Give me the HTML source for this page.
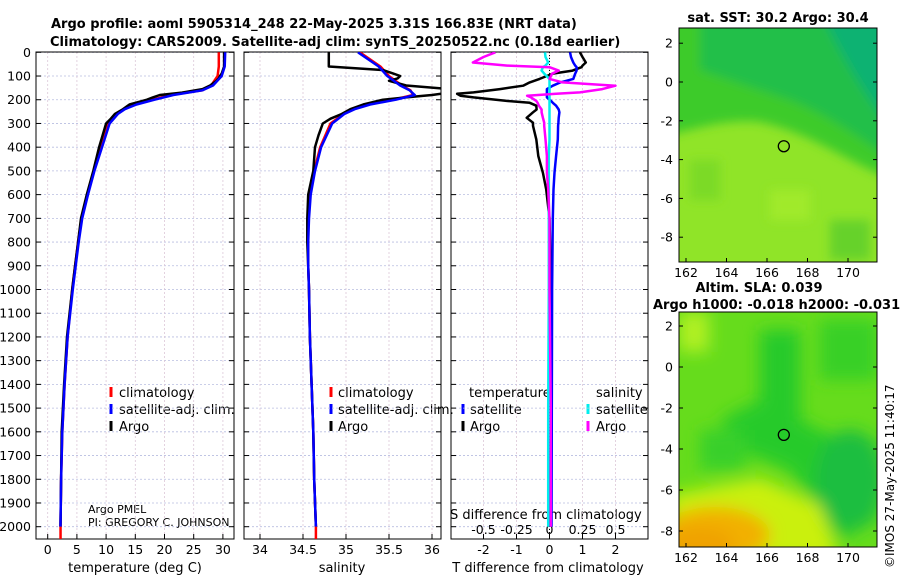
<!DOCTYPE html>
<html><head><meta charset="utf-8"><style>
html,body{margin:0;padding:0;background:#fff}
svg{display:block;font-family:"DejaVu Sans","Liberation Sans",sans-serif}
</style></head><body>
<svg id="s" width="900" height="580" viewBox="0 0 900 580" xmlns="http://www.w3.org/2000/svg">
<defs>
<filter id="blur6"><feGaussianBlur stdDeviation="5"/></filter>
<filter id="blur10"><feGaussianBlur stdDeviation="8"/></filter>
<clipPath id="cTop"><rect x="679" y="28" width="198" height="234"/></clipPath>
<clipPath id="cBot"><rect x="679" y="312" width="198" height="235"/></clipPath>
<clipPath id="cP1"><rect x="36" y="52" width="198" height="487"/></clipPath>
<clipPath id="cP2"><rect x="244" y="52" width="197" height="487"/></clipPath>
<clipPath id="cP3"><rect x="451" y="52" width="197" height="487"/></clipPath>
</defs>
<text x="51" y="28" font-size="13" font-weight="bold">Argo profile: aoml 5905314_248 22-May-2025 3.31S 166.83E (NRT data)</text>
<text x="50" y="46" font-size="13" font-weight="bold">Climatology: CARS2009. Satellite-adj clim: synTS_20250522.nc (0.18d earlier)</text>

<!-- top map -->
<g clip-path="url(#cTop)">
<rect x="679" y="28" width="198" height="234" fill="#90e428"/>
<g filter="url(#blur6)">
<path d="M660 10 L900 10 L900 180 C860 172 820 135 760 122 C720 118 690 132 660 136 Z" fill="#3ccb2c"/>
<path d="M700 10 L900 10 L900 165 C870 145 830 115 790 100 C760 90 730 80 700 70Z" fill="#22bf48"/>
<path d="M820 10 L900 10 L900 140 C880 115 850 75 820 10Z" fill="#10b272"/>
<rect x="690" y="160" width="30" height="40" fill="#7cda26"/>
<rect x="770" y="190" width="40" height="30" fill="#a0ea2a"/>
<rect x="830" y="220" width="40" height="40" fill="#66d22a"/>
</g>
</g>
<rect x="679" y="28" width="198" height="234" fill="none" stroke="#000" stroke-width="1"/>
<text x="778" y="22" font-size="13" font-weight="bold" text-anchor="middle">sat. SST: 30.2 Argo: 30.4</text>

<!-- bottom map -->
<g clip-path="url(#cBot)">
<rect x="679" y="312" width="198" height="235" fill="#66dc1c"/>
<g filter="url(#blur10)">
<rect x="679" y="312" width="30" height="40" fill="#b0f020"/>
<path d="M760 330 L800 330 L800 420 L840 440 L877 440 L877 520 L840 540 L790 470 L740 450 L720 420 L760 400Z" fill="#28ca2a"/>
<rect x="820" y="320" width="57" height="60" fill="#38d028"/>
<ellipse cx="850" cy="480" rx="35" ry="50" fill="#1ebe40"/>
<rect x="700" y="430" width="45" height="40" fill="#38d02a"/>
<path d="M670 495 L760 478 L820 505 L840 560 L670 560Z" fill="#caf010"/>
<ellipse cx="715" cy="535" rx="55" ry="28" fill="#f2b000"/>
<ellipse cx="700" cy="545" rx="35" ry="18" fill="#f0a200"/>
</g>
</g>
<rect x="679" y="312" width="198" height="235" fill="none" stroke="#000" stroke-width="1"/>
<text x="759" y="292" font-size="13" font-weight="bold" text-anchor="middle">Altim. SLA: 0.039</text>
<text x="653" y="309" font-size="13" font-weight="bold">Argo h1000: -0.018 h2000: -0.031</text>
<text transform="translate(894,568) rotate(-90)" font-size="12">©IMOS 27-May-2025 11:40:17</text>

<g font-size="13">
<line x1="111" y1="387" x2="111" y2="397" stroke="#f00" stroke-width="3"/><text x="119" y="397">climatology</text>
<line x1="111" y1="404" x2="111" y2="414" stroke="#00f" stroke-width="3"/><text x="119" y="414">satellite-adj. clim.</text>
<line x1="111" y1="421" x2="111" y2="431" stroke="#000" stroke-width="3"/><text x="119" y="431">Argo</text>
</g>
<g font-size="13">
<line x1="331" y1="387" x2="331" y2="397" stroke="#f00" stroke-width="3"/><text x="338" y="397">climatology</text>
<line x1="331" y1="404" x2="331" y2="414" stroke="#00f" stroke-width="3"/><text x="338" y="414">satellite-adj. clim.</text>
<line x1="331" y1="421" x2="331" y2="431" stroke="#000" stroke-width="3"/><text x="338" y="431">Argo</text>
</g>
<g font-size="13">
<text x="469" y="397">temperature</text><text x="596" y="397">salinity</text>
<line x1="463" y1="404" x2="463" y2="414" stroke="#00f" stroke-width="3"/><text x="470" y="414">satellite</text>
<line x1="463" y1="421" x2="463" y2="431" stroke="#000" stroke-width="3"/><text x="470" y="431">Argo</text>
<line x1="588" y1="404" x2="588" y2="414" stroke="#0ee" stroke-width="3"/><text x="596" y="414">satellite</text>
<line x1="588" y1="421" x2="588" y2="431" stroke="#f0f" stroke-width="3"/><text x="596" y="431">Argo</text>
</g>
<text x="88" y="513" font-size="11">Argo PMEL</text>
<text x="88" y="526" font-size="11">PI: GREGORY C. JOHNSON</text>
<text x="450" y="519" font-size="13">S difference from climatology</text>
<text x="135" y="572" font-size="13" text-anchor="middle">temperature (deg C)</text>
<text x="342" y="572" font-size="13" text-anchor="middle">salinity</text>
<text x="548" y="572" font-size="13" text-anchor="middle">T difference from climatology</text>
</svg>
<script>
// ---------- data ----------
const depthTicks=[0,100,200,300,400,500,600,700,800,900,1000,1100,1200,1300,1400,1500,1600,1700,1800,1900,2000];
const tempTicks=[0,5,10,15,20,25,30];
const salTicks=[34,34.5,35,35.5,36];
const salTickLabels=["34","34.5","35","35.5","36"];
const tdiffTicks=[-2,-1,0,1,2];
const sdiffTicks=[-0.5,-0.25,0,0.25,0.5];
const sdiffTickLabels=["-0.5","-0.25","0","0.25","0.5"];
const lonTicks=[162,164,166,168,170];
const latTicks=[2,0,-2,-4,-6,-8];

const climDepth=[0,60,100,140,160,180,200,220,240,260,300,400,500,600,700,800,900,1000,1200,1400,1600,1800,2000];
const climTemp=[29.3,29.3,29.1,28,26.5,21,18,15,13,11.8,10.3,9.1,7.9,6.8,5.8,5.2,4.7,4.2,3.4,2.9,2.5,2.3,2.2];
const satTemp=[30.4,30.3,29.8,28.3,26.5,21.5,18.3,15.2,13.2,12,10.6,9.3,8,6.9,5.9,5.3,4.8,4.3,3.4,2.9,2.5,2.3,2.2];
const climSal=[35.16,35.4,35.5,35.65,35.75,35.78,35.55,35.25,35.08,34.97,34.82,34.7,34.63,34.58,34.56,34.56,34.56,34.57,34.58,34.6,34.62,34.63,34.65];
const satSal=[35.14,35.38,35.48,35.63,35.74,35.8,35.58,35.28,35.1,34.98,34.84,34.71,34.64,34.59,34.57,34.56,34.56,34.57,34.58,34.6,34.62,34.63,34.65];

const argoDepth=[0,40,60,75,90,100,110,120,140,155,170,180,190,200,220,240,260,280,300,350,400,500,600,700,800,900,1000,1200,1400,1600,1800,2000];
const argoTemp=[30.2,30.2,30.2,30,29.8,29.5,29.3,28.9,27.8,26.5,23,19.2,18,17,14,12.9,11.5,10.8,10,9.4,8.8,7.8,6.7,5.7,5.2,4.7,4.2,3.3,2.8,2.4,2.3,2.2];
const argoSal=[34.8,34.8,34.8,35.43,35.55,35.63,35.6,35.5,35.7,36.2,36.2,36.0,35.7,35.43,35.2,35.05,34.95,34.82,34.73,34.68,34.64,34.62,34.56,34.55,34.55,34.56,34.57,34.58,34.6,34.62,34.63,34.65];

const dDepth=[0,20,43,56,63,77,90,112,127,141,155,169,175,183,190,205,213,225,241,253,276,297,310,367,437,508,578,700,1000,1500,2000];
const argoDT=[0.92,1.0,1.1,1.0,0.97,0.7,0.1,-0.3,-0.6,-0.8,-1.5,-2.3,-2.8,-2.7,-2.3,-1.3,-0.6,-0.4,-0.39,-0.5,-0.69,-0.5,-0.5,-0.4,-0.34,-0.2,-0.1,0,0.05,0.05,0];
const satDT=[0.62,0.65,0.72,0.78,0.82,0.82,0.78,0.72,0.33,0.1,-0.08,-0.08,-0.08,-0.08,-0.08,0.05,0.1,0.2,0.28,0.3,0.28,0.27,0.26,0.25,0.2,0.15,0.12,0.1,0.08,0.07,0.06];
const satDS=[-0.034,-0.03,-0.01,-0.03,-0.05,-0.06,-0.04,0,0,0,0,0,0,0,0,0,0,0,0,0,0,0,0,0,-0.005,-0.005,-0.005,-0.005,-0.005,-0.01,-0.01];
const argoDS=[-0.41,-0.5,-0.58,-0.32,0,0.07,0.02,0,0.1,0.5,0.4,0.23,0.05,-0.17,-0.14,-0.1,-0.09,-0.08,-0.06,-0.06,-0.05,-0.04,-0.04,-0.03,-0.02,-0.02,-0.01,0,0,0.01,0.01];

const floatLon=166.83, floatLat=-3.31;

// ---------- axes ----------
const yD=d=>52.3+d*0.2372;
const xT=t=>47.7+t*5.84;
const xS=s=>260+(s-34)*86;
const xDT=v=>549.5+v*33;
const xDS=v=>549.5+v*132;
const mLon=l=>686+(l-162)*20.25;
const mLatTop=a=>82-a*19.4;
const mLatBot=a=>367-a*20.5;

const NS="http://www.w3.org/2000/svg";
const svg=document.getElementById('s');
function mk(tag,attrs,parent){const e=document.createElementNS(NS,tag);for(const k in attrs)e.setAttribute(k,attrs[k]);(parent||svg).appendChild(e);return e;}

const panels=[{x0:36,x1:234,xf:xT,ticks:tempTicks,labels:tempTicks.map(String),name:'temp'},
{x0:244,x1:441,xf:xS,ticks:salTicks,labels:salTickLabels,name:'salinity'},
{x0:451,x1:648,xf:xDT,ticks:tdiffTicks,labels:tdiffTicks.map(String),name:'diff'}];
const yTop=52,yBot=539;
panels.forEach(p=>{
  const g=mk('g',{});
  
  
  depthTicks.forEach(d=>{
    mk('line',{x1:p.x0,x2:p.x1,y1:yD(d),y2:yD(d),stroke:'#b8bde0','stroke-width':0.8,'stroke-dasharray':'2,2'},g);
    mk('line',{x1:p.x0,x2:p.x0+5,y1:yD(d),y2:yD(d),stroke:'#000'},g);
    mk('line',{x1:p.x1-5,x2:p.x1,y1:yD(d),y2:yD(d),stroke:'#000'},g);
  });
  p.ticks.forEach((t,i)=>{
    const x=p.xf(t);
    mk('line',{x1:x,x2:x,y1:yTop,y2:yBot,stroke:'#dcc8d8','stroke-width':0.8,'stroke-dasharray':'2,2'},g);
    mk('line',{x1:x,x2:x,y1:yBot-5,y2:yBot,stroke:'#000'},g);
    const tx=mk('text',{x:x,y:554,'font-size':12.5,'text-anchor':'middle'},g);
    
    
    tx.textContent=p.labels[i];
  });
  mk('rect',{x:p.x0,y:yTop,width:p.x1-p.x0,height:yBot-yTop,fill:'none',stroke:'#000','stroke-width':1},g);
});
depthTicks.forEach(d=>{
  const t=mk('text',{x:31,y:yD(d)+4.5,'font-size':12.5,'text-anchor':'end'});
  
  
  t.textContent=d;
});
sdiffTicks.forEach((v,i)=>{
  const t=mk('text',{x:xDS(v),y:534,'font-size':12.5,'text-anchor':'middle'});
  
  
  t.textContent=sdiffTickLabels[i];
});
mk('line',{x1:xDT(0),x2:xDT(0),y1:yTop,y2:yBot,stroke:'#000','stroke-width':1,'stroke-dasharray':'1,2'});

function line(depths,vals,xf,color,name,clip,w){
  const pts=depths.map((d,i)=>xf(vals[i]).toFixed(1)+','+yD(d).toFixed(1)).join(' ');
  const e=mk('polyline',{points:pts,fill:'none',stroke:color,'stroke-width':w||2.5,'stroke-linejoin':'round','clip-path':'url(#'+clip+')'});
  
  
}
line(climDepth,climTemp,xT,'#f00','clim-temp-line','cP1');
line(argoDepth,argoTemp,xT,'#000','argo-temp-line','cP1');
line(climDepth,satTemp,xT,'#00f','sat-temp-line','cP1');
line(climDepth,climSal,xS,'#f00','clim-sal-line','cP2');
line(argoDepth,argoSal,xS,'#000','argo-sal-line','cP2');
line(climDepth,satSal,xS,'#00f','sat-sal-line','cP2');
line(dDepth,argoDT,xDT,'#000','argo-tdiff-line','cP3');
line(dDepth,satDT,xDT,'#00f','sat-tdiff-line','cP3');
line(dDepth,satDS,xDS,'#0ee','sat-sdiff-line','cP3');
line(dDepth,argoDS,xDS,'#f0f','argo-sdiff-line','cP3');
mk('line',{x1:xT(2.2),x2:xT(2.2),y1:yD(2000),y2:yBot,stroke:'#f00','stroke-width':2.5});
mk('line',{x1:xS(34.65),x2:xS(34.65),y1:yD(2000),y2:yBot,stroke:'#f00','stroke-width':2.5});

// map axes
[{y0:28,y1:262,lat:mLatTop,ly:277,n:'sst'},{y0:312,y1:547,lat:mLatBot,ly:562,n:'sla'}].forEach(m=>{
  lonTicks.forEach(l=>{
    const x=mLon(l);
    mk('line',{x1:x,x2:x,y1:m.y1-4,y2:m.y1,stroke:'#000'});
    const t=mk('text',{x:x,y:m.ly,'font-size':12.5,'text-anchor':'middle'});
    
    
    t.textContent=l;
  });
  latTicks.forEach(a=>{
    const y=m.lat(a);
    mk('line',{x1:679,x2:683,y1:y,y2:y,stroke:'#000'});
    mk('line',{x1:873,x2:877,y1:y,y2:y,stroke:'#000'});
    const t=mk('text',{x:673,y:y+4.5,'font-size':12.5,'text-anchor':'end'});
    
    
    t.textContent=a;
  });
  const c=mk('circle',{cx:mLon(floatLon),cy:m.lat(floatLat),r:5.5,fill:'none',stroke:'#000','stroke-width':1.3});
  
  
});
</script>
</body></html>
